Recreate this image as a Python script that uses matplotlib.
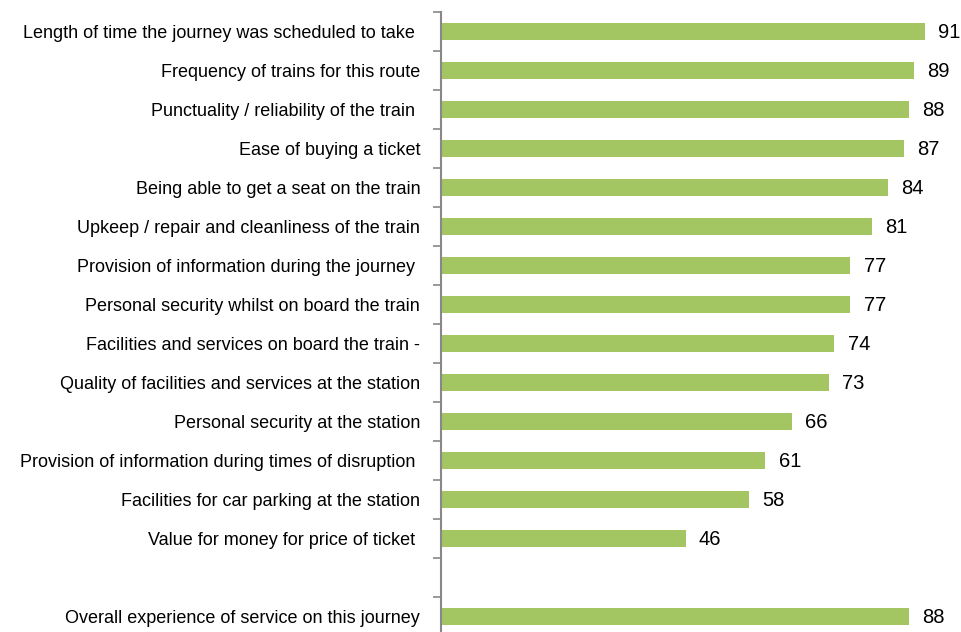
import matplotlib.pyplot as plt
from matplotlib.ticker import FixedLocator

plt.rcParams['font.family'] = ['Liberation Sans', 'DejaVu Sans']

labels = [
    "Length of time the journey was scheduled to take ",
    "Frequency of trains for this route",
    "Punctuality / reliability of the train ",
    "Ease of buying a ticket",
    "Being able to get a seat on the train",
    "Upkeep / repair and cleanliness of the train",
    "Provision of information during the journey ",
    "Personal security whilst on board the train",
    "Facilities and services on board the train -",
    "Quality of facilities and services at the station",
    "Personal security at the station",
    "Provision of information during times of disruption ",
    "Facilities for car parking at the station",
    "Value for money for price of ticket ",
    "",
    "Overall experience of service on this journey",
]
values = [91, 89, 88, 87, 84, 81, 77, 77, 74, 73, 66, 61, 58, 46, None, 88]

fig = plt.figure(figsize=(9.62, 6.32), dpi=100)
ax = fig.add_axes([441 / 962, -4 / 632, 1 - 441 / 962, 624 / 632])

pos = [i for i, v in enumerate(values) if v is not None]
vals = [v for v in values if v is not None]
ax.barh(pos, vals, height=0.42, color='#A3C562')
for p, v in zip(pos, vals):
    ax.text(v + 2.5, p - 0.02, str(v), va='center_baseline', ha='left',
            fontsize=14.5, color='black')

ax.set_xlim(0, 98)
ax.set_ylim(len(values) - 0.5, -0.5)
ax.set_yticks(range(len(values)))
ax.set_yticklabels(labels, fontsize=13)
ax.yaxis.set_minor_locator(FixedLocator([i - 0.5 for i in range(len(values) + 1)]))
ax.tick_params(axis='y', which='major', length=0, pad=15)
ax.tick_params(axis='y', which='minor', length=6, width=1.2, color='#888888')
ax.set_xticks([])
for s in ['top', 'right', 'bottom']:
    ax.spines[s].set_visible(False)
ax.spines['left'].set_color('#888888')
ax.spines['left'].set_linewidth(1.5)

fig.savefig('out.png', dpi=100)
